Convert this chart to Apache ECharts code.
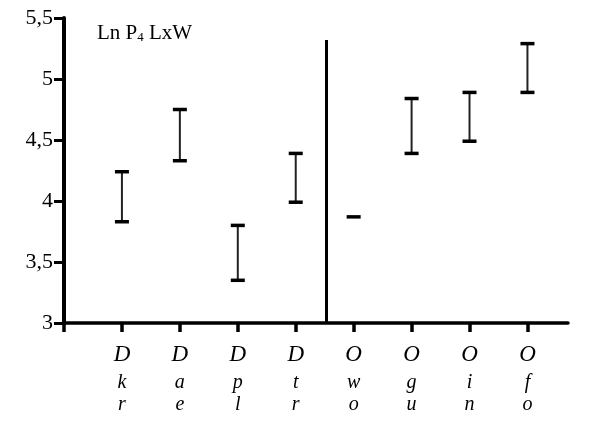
<!DOCTYPE html>
<html><head><meta charset="utf-8">
<script src="https://cdn.jsdelivr.net/npm/echarts@6/dist/echarts.min.js"></script>
<style>html,body{margin:0;padding:0;background:#fff}#c{width:600px;height:425px}</style>
</head><body><div id="c"></div>
<script>
const categories = [['D','k','r'],['D','a','e'],['D','p','l'],['D','t','r'],['O','w','o'],['O','g','u'],['O','i','n'],['O','f','o']];
const lowValues  = [3.83, 4.33, 3.35, 3.99, 3.87, 4.39, 4.49, 4.89];
const highValues = [4.24, 4.75, 3.80, 4.39, 3.87, 4.84, 4.89, 5.29];
const yTicks = [3, 3.5, 4, 4.5, 5, 5.5];
const dividerX = 4.52;
const dividerTop = 5.32;
const titleText = 'Ln P{sub|4} LxW';

const positions = categories.map((c, i) => i + 1);
const barData = positions.map((p, i) => [p, lowValues[i], highValues[i]]);

const chart = echarts.init(document.getElementById('c'), null, {renderer: 'canvas'});
chart.setOption({
  animation: false,
  backgroundColor: '#fff',
  grid: {left: 64, right: 32, top: 18, bottom: 102},
  title: {
    text: titleText, left: 97, top: 22, padding: 0,
    textStyle: {fontFamily: 'Liberation Serif', fontSize: 21, fontWeight: 'normal', color: '#000',
      rich: {sub: {fontFamily: 'Liberation Serif', fontSize: 13, verticalAlign: 'bottom', padding: [9,0,0,0], color: '#000'}}}
  },
  xAxis: {
    type: 'value', min: 0, max: 8.7, interval: 1,
    splitLine: {show: false},
    axisLine: {show: true, lineStyle: {color: '#000', width: 3.5}},
    axisTick: {show: true, customValues: [0].concat(positions), length: 9, lineStyle: {color: '#000', width: 3.5}},
    axisLabel: {
      customValues: positions, margin: 15,
      formatter: v => { const c = categories[Math.round(v) - 1]; return c ? '{a|' + c[0] + '}\n{b|' + c[1] + '}\n{b|' + c[2] + '}' : ''; },
      rich: {
        a: {fontFamily: 'Liberation Serif', fontStyle: 'italic', fontSize: 23, lineHeight: 34, color: '#000'},
        b: {fontFamily: 'Liberation Serif', fontStyle: 'italic', fontSize: 20, lineHeight: 22, color: '#000'}
      }
    }
  },
  yAxis: {
    type: 'value', min: 3, max: 5.5, interval: 0.5,
    splitLine: {show: false},
    axisLine: {show: true, lineStyle: {color: '#000', width: 4}},
    axisTick: {show: true, length: 10, lineStyle: {color: '#000', width: 3}},
    axisLabel: {
      margin: 11, fontFamily: 'Liberation Serif', fontSize: 22, color: '#000',
      formatter: v => yTicks.includes(v) ? String(v).replace('.', ',') : ''
    }
  },
  series: [
    {
      type: 'custom',
      data: barData,
      clip: false,
      renderItem: (params, api) => {
        const x = api.value(0);
        const lo = api.coord([x, api.value(1)]);
        const hi = api.coord([x, api.value(2)]);
        const hw = 7;
        const children = [];
        if (Math.abs(lo[1] - hi[1]) > 1) {
          children.push({type: 'line', shape: {x1: lo[0], y1: lo[1], x2: hi[0], y2: hi[1]}, style: {stroke: '#222', lineWidth: 2}});
          children.push({type: 'line', shape: {x1: lo[0] - hw, y1: lo[1], x2: lo[0] + hw, y2: lo[1]}, style: {stroke: '#000', lineWidth: 3.5}});
        }
        children.push({type: 'line', shape: {x1: hi[0] - hw, y1: hi[1], x2: hi[0] + hw, y2: hi[1]}, style: {stroke: '#000', lineWidth: 3.5}});
        return {type: 'group', children};
      }
    },
    {
      type: 'line', data: [], silent: true,
      markLine: {
        symbol: ['none', 'none'], silent: true, label: {show: false},
        lineStyle: {color: '#000', width: 3, type: 'solid'},
        data: [[{coord: [dividerX, 3]}, {coord: [dividerX, dividerTop]}]]
      }
    }
  ]
});
</script></body></html>
